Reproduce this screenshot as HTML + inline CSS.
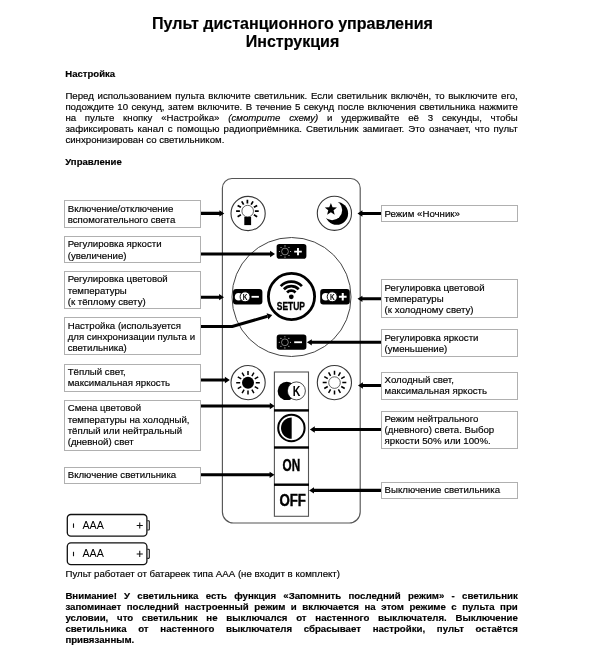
<!DOCTYPE html>
<html><head><meta charset="utf-8">
<style>
html,body{margin:0;padding:0;background:#fff;}
html{filter:grayscale(1);}
body{width:600px;height:650px;position:relative;overflow:hidden;font-family:"Liberation Sans",sans-serif;color:#000;-webkit-text-stroke:0.17px #000;}
.t{position:absolute;white-space:nowrap;font-size:9.67px;line-height:12px;}
.hd{font-size:9.55px;}
.j{position:absolute;left:65.4px;width:452.4px;font-size:9.67px;line-height:12px;text-align:justify;text-align-last:justify;white-space:nowrap;}
.b{font-weight:bold;}
.h{position:absolute;left:0;width:585px;text-align:center;font-weight:bold;font-size:16.06px;line-height:18px;}
.bx{position:absolute;border:1px solid #b0b0b0;box-sizing:border-box;background:#fff;}
.l{position:absolute;font-size:9.67px;line-height:11.2px;white-space:nowrap;}
svg{position:absolute;left:0;top:0;}
</style></head><body>
<div class="h" style="top:14px">Пульт дистанционного управления</div>
<div class="h" style="top:32px">Инструкция</div>
<div class="t b hd" style="left:65.3px;top:68px">Настройка</div>
<div class="j" style="top:90px">Перед использованием пульта включите светильник. Если светильник включён, то выключите его,</div>
<div class="j" style="top:101px">подождите 10 секунд, затем включите. В течение 5 секунд после включения светильника нажмите</div>
<div class="j" style="top:112px">на пульте кнопку «Настройка» <i>(смотрите схему)</i> и удерживайте её 3 секунды, чтобы</div>
<div class="j" style="top:123px">зафиксировать канал с помощью радиоприёмника. Светильник замигает. Это означает, что пульт</div>
<div class="t" style="left:65.4px;top:134px">синхронизирован со светильником.</div>
<div class="t b hd" style="left:65.3px;top:156px">Управление</div>
<div class="bx" style="left:64px;top:200.15px;width:137px;height:28px"></div>
<div class="bx" style="left:64px;top:236.25px;width:137px;height:27px"></div>
<div class="bx" style="left:64px;top:271.3px;width:137px;height:38px"></div>
<div class="bx" style="left:64px;top:317.3px;width:137px;height:38px"></div>
<div class="bx" style="left:64px;top:364px;width:137px;height:28px"></div>
<div class="bx" style="left:64px;top:400px;width:137px;height:51px"></div>
<div class="bx" style="left:64px;top:467px;width:137px;height:17px"></div>
<div class="bx" style="left:381px;top:205.2px;width:137px;height:17px"></div>
<div class="bx" style="left:381px;top:279.3px;width:137px;height:38.3px"></div>
<div class="bx" style="left:381px;top:328.7px;width:137px;height:28px"></div>
<div class="bx" style="left:381px;top:371.5px;width:137px;height:28px"></div>
<div class="bx" style="left:381px;top:410.8px;width:137px;height:38.5px"></div>
<div class="bx" style="left:381px;top:482px;width:137px;height:16.6px"></div>
<div class="l" style="left:67.7px;top:202.6px">Включение/отключение<br>вспомогательного света</div>
<div class="l" style="left:67.7px;top:238.4px">Регулировка яркости<br>(увеличение)</div>
<div class="l" style="left:67.7px;top:273.4px">Регулировка цветовой<br>температуры<br>(к тёплому свету)</div>
<div class="l" style="left:67.7px;top:319.6px">Настройка (используется<br>для синхронизации пульта и<br>светильника)</div>
<div class="l" style="left:67.7px;top:366.2px">Тёплый свет,<br>максимальная яркость</div>
<div class="l" style="left:67.7px;top:402.4px">Смена цветовой<br>температуры на холодный,<br>тёплый или нейтральный<br>(дневной) свет</div>
<div class="l" style="left:67.7px;top:469.2px">Включение светильника</div>
<div class="l" style="left:384.6px;top:207.8px">Режим «Ночник»</div>
<div class="l" style="left:384.6px;top:281.8px">Регулировка цветовой<br>температуры<br>(к холодному свету)</div>
<div class="l" style="left:384.6px;top:331.8px">Регулировка яркости<br>(уменьшение)</div>
<div class="l" style="left:384.6px;top:374.2px">Холодный свет,<br>максимальная яркость</div>
<div class="l" style="left:384.6px;top:412.9px">Режим нейтрального<br>(дневного) света. Выбор<br>яркости 50% или 100%.</div>
<div class="l" style="left:384.6px;top:484.1px">Выключение светильника</div>

<svg width="600" height="650" viewBox="0 0 600 650">
<path d="M232 178.5H350.7A9.5 9.5 0 0 1 360.2 188V512A11 11 0 0 1 349.2 523H233.4A11 11 0 0 1 222.4 512V188A9.5 9.5 0 0 1 231.9 178.5Z" fill="none" stroke="#555" stroke-width="1.15"/>
<circle cx="291.5" cy="297" r="59.5" fill="none" stroke="#444" stroke-width="1"/>
<circle cx="248.1" cy="213.5" r="17.1" fill="#fff" stroke="#383838" stroke-width="1.1"/>
<circle cx="334.4" cy="213.3" r="17.1" fill="#fff" stroke="#383838" stroke-width="1.1"/>
<circle cx="248.1" cy="382.6" r="17.1" fill="#fff" stroke="#383838" stroke-width="1.1"/>
<circle cx="334.4" cy="382.6" r="17.1" fill="#fff" stroke="#383838" stroke-width="1.1"/>
<circle cx="291.5" cy="296.5" r="23.1" fill="#fff" stroke="#000" stroke-width="2.8"/>
<rect x="274.4" y="372" width="34.1" height="144.3" fill="#fff" stroke="#555" stroke-width="1.1"/>
<rect x="274" y="409.2" width="35" height="2.4" fill="#000"/>
<rect x="274" y="446.3" width="35" height="2.4" fill="#000"/>
<rect x="274" y="483.5" width="35" height="2.4" fill="#000"/>
<rect x="276.6" y="243.9" width="29.8" height="14.8" rx="2.8" fill="#000"/>
<rect x="276.7" y="334.6" width="29.7" height="15.2" rx="2.8" fill="#000"/>
<rect x="233" y="288.9" width="29.4" height="15.7" rx="3" fill="#000"/>
<rect x="320.2" y="288.9" width="29.6" height="15.7" rx="3" fill="#000"/>
<path d="M253.90 214.85L257.19 216.75M254.90 211.10L258.70 211.10M253.90 207.35L257.19 205.45M251.15 204.60L253.05 201.31M247.40 203.60L247.40 199.80M243.65 204.60L241.75 201.31M240.90 207.35L237.61 205.45M239.90 211.10L236.10 211.10M240.90 214.85L237.61 216.75" stroke="#000" stroke-width="1.7" fill="none"/>
<rect x="244.3" y="216.8" width="6.8" height="8.3" fill="#000"/>
<circle cx="247.7" cy="211.1" r="5.8" fill="#fff" stroke="#222" stroke-width="0.7"/>
<defs><mask id="mm"><rect x="310" y="190" width="50" height="50" fill="#fff"/><circle cx="332.1" cy="210.05" r="10.1" fill="#000"/></mask></defs>
<circle cx="336.7" cy="213.4" r="11.4" fill="#000" mask="url(#mm)"/>
<polygon points="330.90,203.10 329.25,207.23 324.81,207.52 328.24,210.37 327.14,214.68 330.90,212.30 334.66,214.68 333.56,210.37 336.99,207.52 332.55,207.23" fill="#000"/>
<path d="M255.80 382.80L259.80 382.80M254.75 378.90L258.22 376.90M251.90 376.05L253.90 372.58M248.00 375.00L248.00 371.00M244.10 376.05L242.10 372.58M241.25 378.90L237.78 376.90M240.20 382.80L236.20 382.80M241.25 386.70L237.78 388.70M244.10 389.55L242.10 393.02M248.00 390.60L248.00 394.60M251.90 389.55L253.90 393.02M254.75 386.70L258.22 388.70" stroke="#000" stroke-width="1.5" fill="none"/>
<circle cx="248" cy="382.8" r="6" fill="#000"/>
<path d="M342.30 382.60L346.30 382.60M341.25 378.70L344.72 376.70M338.40 375.85L340.40 372.38M334.50 374.80L334.50 370.80M330.60 375.85L328.60 372.38M327.75 378.70L324.28 376.70M326.70 382.60L322.70 382.60M327.75 386.50L324.28 388.50M330.60 389.35L328.60 392.82M334.50 390.40L334.50 394.40M338.40 389.35L340.40 392.82M341.25 386.50L344.72 388.50" stroke="#000" stroke-width="1.5" fill="none"/>
<circle cx="334.5" cy="382.6" r="5.8" fill="#fff" stroke="#222" stroke-width="0.7"/>
<path d="M295.54 292.46A6 6 0 0 0 287.06 292.46" fill="none" stroke="#000" stroke-width="2.7"/>
<path d="M298.72 289.28A10.5 10.5 0 0 0 283.88 289.28" fill="none" stroke="#000" stroke-width="2.7"/>
<path d="M301.91 286.09A15 15 0 0 0 280.69 286.09" fill="none" stroke="#000" stroke-width="2.7"/>
<circle cx="291.3" cy="296.8" r="2.4" fill="#000"/>
<text x="290.9" y="310.2" font-family="Liberation Sans, sans-serif" font-weight="bold" font-size="10.6" text-anchor="middle" textLength="28.2" lengthAdjust="spacingAndGlyphs" stroke="#000" stroke-width="0.3">SETUP</text>
<circle cx="285" cy="251.5" r="3.4" fill="#000" stroke="#ccc" stroke-width="0.6"/><circle cx="290.60" cy="251.50" r="0.55" fill="#ddd"/><circle cx="288.96" cy="255.46" r="0.55" fill="#ddd"/><circle cx="285.00" cy="257.10" r="0.55" fill="#ddd"/><circle cx="281.04" cy="255.46" r="0.55" fill="#ddd"/><circle cx="279.40" cy="251.50" r="0.55" fill="#ddd"/><circle cx="281.04" cy="247.54" r="0.55" fill="#ddd"/><circle cx="285.00" cy="245.90" r="0.55" fill="#ddd"/><circle cx="288.96" cy="247.54" r="0.55" fill="#ddd"/>
<path d="M294.2 250.7h7.6v1.9h-7.6zM297.05 248h1.9v7.2h-1.9z" fill="#fff"/>
<circle cx="284.9" cy="342.3" r="3.4" fill="#000" stroke="#ccc" stroke-width="0.6"/><circle cx="290.50" cy="342.30" r="0.55" fill="#ddd"/><circle cx="288.86" cy="346.26" r="0.55" fill="#ddd"/><circle cx="284.90" cy="347.90" r="0.55" fill="#ddd"/><circle cx="280.94" cy="346.26" r="0.55" fill="#ddd"/><circle cx="279.30" cy="342.30" r="0.55" fill="#ddd"/><circle cx="280.94" cy="338.34" r="0.55" fill="#ddd"/><circle cx="284.90" cy="336.70" r="0.55" fill="#ddd"/><circle cx="288.86" cy="338.34" r="0.55" fill="#ddd"/>
<rect x="294.2" y="341.35" width="7.8" height="1.8" fill="#fff"/>
<circle cx="238.6" cy="296.8" r="3.8" fill="#fff"/><circle cx="245.1" cy="296.8" r="5" fill="#fff" stroke="#000" stroke-width="0.95"/><text x="245.2" y="299.95" font-family="Liberation Sans, sans-serif" font-weight="bold" font-size="9.1" text-anchor="middle" textLength="4.7" lengthAdjust="spacingAndGlyphs" style="-webkit-text-stroke:0">K</text>
<rect x="251.5" y="295.9" width="7.4" height="1.8" fill="#fff"/>
<circle cx="325.70000000000005" cy="296.8" r="3.8" fill="#fff"/><circle cx="332.20000000000005" cy="296.8" r="5" fill="#fff" stroke="#000" stroke-width="0.95"/><text x="332.3" y="299.95" font-family="Liberation Sans, sans-serif" font-weight="bold" font-size="9.1" text-anchor="middle" textLength="4.7" lengthAdjust="spacingAndGlyphs" style="-webkit-text-stroke:0">K</text>
<path d="M338.9 295.85h7.7v2h-7.7zM341.75 293.1h2v7.5h-2z" fill="#fff"/>
<circle cx="286.8" cy="390.9" r="9.2" fill="#000"/>
<circle cx="296.4" cy="390.9" r="9" fill="#fff" stroke="#000" stroke-width="0.7"/>
<text x="296.6" y="396" font-family="Liberation Sans, sans-serif" font-weight="bold" font-size="14.6" text-anchor="middle" textLength="7.6" lengthAdjust="spacingAndGlyphs">K</text>
<circle cx="291.4" cy="428" r="13.2" fill="#fff" stroke="#000" stroke-width="2"/>
<path d="M291.7 417.4A10.7 10.7 0 0 0 291.7 438.8Z" fill="#000"/>
<text x="291.4" y="470.8" font-family="Liberation Sans, sans-serif" font-weight="bold" font-size="16.9" text-anchor="middle" textLength="17.6" lengthAdjust="spacingAndGlyphs" stroke="#000" stroke-width="0.45">ON</text>
<text x="292.7" y="505.6" font-family="Liberation Sans, sans-serif" font-weight="bold" font-size="16.9" text-anchor="middle" textLength="26.5" lengthAdjust="spacingAndGlyphs" stroke="#000" stroke-width="0.45">OFF</text>
<path d="M201 211.85H219.40V210.25L224.3 213.4L219.40 216.55V214.95000000000002H201Z" fill="#000"/>
<path d="M201 252.45H270.10V250.85L275 254L270.10 257.15V255.55H201Z" fill="#000"/>
<path d="M201 295.65H219.10V294.05L224 297.2L219.10 300.34999999999997V298.75H201Z" fill="#000"/>
<path d="M201 378.45H224.90V376.85L229.8 380L224.90 383.15V381.55H201Z" fill="#000"/>
<path d="M201 404.45H269.80V402.85L274.7 406L269.80 409.15V407.55H201Z" fill="#000"/>
<path d="M201 473.25H269.60V471.65000000000003L274.5 474.8L269.60 477.95V476.35H201Z" fill="#000"/>
<path d="M381 211.95H362.40V210.35L357.5 213.5L362.40 216.65V215.05H381Z" fill="#000"/>
<path d="M381 297.25H362.40V295.65000000000003L357.5 298.8L362.40 301.95V300.35H381Z" fill="#000"/>
<path d="M381 340.75H311.80V339.15000000000003L306.9 342.3L311.80 345.45V343.85H381Z" fill="#000"/>
<path d="M381 383.95H362.90V382.35L358 385.5L362.90 388.65V387.05H381Z" fill="#000"/>
<path d="M381 427.95H314.80V426.35L309.9 429.5L314.80 432.65V431.05H381Z" fill="#000"/>
<path d="M381 488.84999999999997H314.00V487.25L309.1 490.4L314.00 493.54999999999995V491.95H381Z" fill="#000"/>
<path d="M201 326.5H232.3L267.49 316.36" fill="none" stroke="#000" stroke-width="3.1" stroke-linejoin="miter"/>
<polygon points="272.2,315.0 268.36,319.38 266.62,313.33" fill="#000"/>
<rect x="67.3" y="514.5" width="79.6" height="21.7" rx="3.6" fill="#fff" stroke="#111" stroke-width="1.3"/>
<path d="M147.3 520.8h1.2a0.8 0.8 0 0 1 0.8 0.8v7.6a0.8 0.8 0 0 1 -0.8 0.8h-1.2" fill="none" stroke="#111" stroke-width="1.1"/>
<text x="82.4" y="528.8" font-family="Liberation Sans, sans-serif" font-size="10.7" style="-webkit-text-stroke:0">AAA</text>
<path d="M136.7 525.5h6.1M139.75 522.4v6.2" stroke="#111" stroke-width="1.05" fill="none"/>
<path d="M73.5 523.4v4.4" stroke="#111" stroke-width="1.1" fill="none"/>
<rect x="67.3" y="542.9" width="79.6" height="21.7" rx="3.6" fill="#fff" stroke="#111" stroke-width="1.3"/>
<path d="M147.3 549.1999999999999h1.2a0.8 0.8 0 0 1 0.8 0.8v7.6a0.8 0.8 0 0 1 -0.8 0.8h-1.2" fill="none" stroke="#111" stroke-width="1.1"/>
<text x="82.4" y="557.1999999999999" font-family="Liberation Sans, sans-serif" font-size="10.7" style="-webkit-text-stroke:0">AAA</text>
<path d="M136.7 553.9h6.1M139.75 550.8v6.2" stroke="#111" stroke-width="1.05" fill="none"/>
<path d="M73.5 551.8v4.4" stroke="#111" stroke-width="1.1" fill="none"/>
</svg>
<div class="t" style="left:65.5px;top:568px">Пульт работает от батареек типа ААА (не входит в комплект)</div>
<div class="j b" style="top:589.5px;line-height:11px">Внимание! У светильника есть функция «Запомнить последний режим» - светильник</div>
<div class="j b" style="top:600.5px;line-height:11px">запоминает последний настроенный режим и включается на этом режиме с пульта при</div>
<div class="j b" style="top:611.5px;line-height:11px">условии, что светильник не выключался от настенного выключателя. Выключение</div>
<div class="j b" style="top:622.5px;line-height:11px">светильника от настенного выключателя сбрасывает настройки, пульт остаётся</div>
<div class="t b" style="left:65.4px;top:633.5px;line-height:11px">привязанным.</div>
</body></html>
